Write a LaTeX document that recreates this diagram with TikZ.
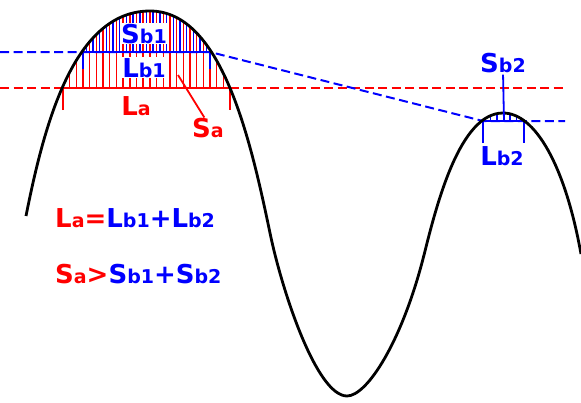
\documentclass[tikz,border=0pt]{standalone}
\usepackage{fontspec}
\setmainfont{DejaVu Sans}
\newcommand{\bigf}{\fontsize{26}{30}\selectfont}
\newcommand{\smallf}{\fontsize{19}{22}\selectfont}
\newcommand{\wave}{(26,216) .. controls (45,120) and (75,11) .. (150,11)
  .. controls (221,11) and (250,137) .. (270,233)
  .. controls (282.5,293) and (317,396) .. (347,396)
  .. controls (367,396) and (402,342) .. (424,255)
  .. controls (436.7,204.3) and (459.7,113) .. (503,113)
  .. controls (535,113) and (565,165) .. (581,254)}
\tikzset{
  wavecurve/.style={line width=2.8pt, black},
  reddash/.style={red, line width=2pt, dash pattern=on 9pt off 4.5pt},
  bluedash/.style={blue, line width=2pt, dash pattern=on 9pt off 4.5pt},
  redline/.style={red, line width=1.8pt},
  blueline/.style={blue, line width=1.8pt},
  hatch/.style={line width=1.4pt},
  lbl/.style={font=\bfseries, inner sep=0pt, anchor=base}
}
\begin{document}
\begin{tikzpicture}[x=1pt, y=-1pt]
\useasboundingbox (0,0) rectangle (581,402);

\coordinate (laa) at (63,88);
\coordinate (lab) at (230,88);
\coordinate (lbonea) at (83,52);
\coordinate (lboneb) at (210,52);
\coordinate (lbtwoa) at (483,121);
\coordinate (lbtwob) at (524,121);
\coordinate (ptwo) at (504,121);
\coordinate (satip) at (178,75);

\begin{scope}
\clip \wave -- (581,402) -- (0,402) -- cycle;
\foreach \k in {0,...,25} \draw[red, hatch] ({63+6.68*\k},88) -- ++(0,-90);
\foreach \k in {3,...,21} \draw[blue, hatch] ({66.34+6.68*\k},52) -- ++(0,-50);
\foreach \k in {0,...,6} \draw[blue, hatch] ({484+6.5*\k},121) -- ++(0,-12);
\end{scope}

\draw[reddash] (0,88) -- (563,88);
\draw[bluedash] (0,52) -- (lboneb) -- (lbtwoa) -- (565,121);

\draw[redline] (laa) ++(0,22) -- (laa) -- (lab) -- ++(0,22);
\draw[blueline] (lbonea) ++(0,17) -- (lbonea) -- (lboneb) -- ++(0,17);
\draw[blueline] (lbtwoa) ++(0,22) -- (lbtwoa) -- (lbtwob) -- ++(0,22);

\draw[wavecurve] \wave;

\node[lbl, blue, fill=white, inner sep=1pt] (sbone) at (144,43) {\bigf S\smallf b1};
\node[lbl, blue, fill=white, inner sep=1pt] (lbone) at (144,77) {\bigf L\smallf b1};
\node[lbl, red] (la) at (136,115) {\bigf L\smallf a};
\node[lbl, red] (sa) at (208,137) {\bigf S\smallf a};
\node[lbl, blue] (sbtwo) at (503,72) {\bigf S\smallf b2};
\node[lbl, blue] (lbtwo) at (502,165) {\bigf L\smallf b2};

\draw[redline] (satip) -- (sa.110);
\draw[blueline, shorten <=2pt] (sbtwo.south) -- (ptwo);

\node[lbl, anchor=base west] (lsum) at (55,227) {\color{red}\bigf L\smallf a\bigf =\color{blue}L\smallf b1\bigf +L\smallf b2};
\node[lbl, anchor=base west] (ssum) at (55,283) {\color{red}\bigf S\smallf a\bigf >\color{blue}S\smallf b1\bigf +S\smallf b2};
\end{tikzpicture}
\end{document}
